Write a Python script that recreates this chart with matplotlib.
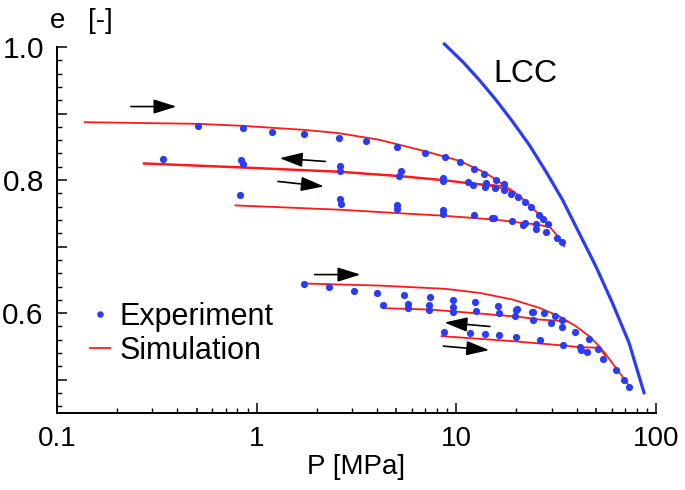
import matplotlib
matplotlib.use("Agg")
import matplotlib.pyplot as plt
from matplotlib.ticker import MultipleLocator, FuncFormatter, LogLocator, NullFormatter

plt.rcParams['font.family'] = ['Liberation Sans', 'DejaVu Sans']

# --- experiment (blue dots), grouped by branch ---
exp_upper_load_p = [0.511, 0.851, 1.193, 1.724, 2.579, 3.548, 5.07, 7.0, 8.78, 10.43, 12.26, 13.69,
                    15.79, 17.24, 17.38, 18.77, 20.42, 22.13, 23.71, 25.92, 27.14, 28.74, 28.09,
                    31.99, 33.78]
exp_upper_load_e = [0.8815, 0.878, 0.8725, 0.869, 0.864, 0.858, 0.849, 0.841, 0.8345, 0.8265, 0.817,
                    0.8095, 0.8005, 0.7935, 0.7845, 0.7795, 0.775, 0.767, 0.759, 0.748, 0.741,
                    0.7335, 0.7215, 0.7135, 0.7065]
exp_upper_cycle_p = [0.338, 0.839, 0.851, 2.6, 2.6, 5.29, 5.19, 8.54, 8.61, 11.39, 12.16, 14.08,
                     13.96, 15.67]
exp_upper_cycle_e = [0.832, 0.8305, 0.8245, 0.8215, 0.813, 0.813, 0.8055, 0.803, 0.799, 0.7975,
                     0.793, 0.7955, 0.7895, 0.7885]
exp_upper_low_p = [0.822, 2.6, 2.63, 5.07, 5.07, 8.54, 8.54, 12.3, 15.1, 15.5, 18.9, 21.6, 22.1,
                   25.2, 25.2]
exp_upper_low_e = [0.7775, 0.7715, 0.764, 0.763, 0.7565, 0.7545, 0.7495, 0.7475, 0.743, 0.743,
                   0.7385, 0.733, 0.7355, 0.734, 0.727]
exp_lower_load_p = [1.718, 2.298, 3.065, 4.013, 5.45, 7.35, 9.58, 12.45, 16.22, 20.03, 24.07, 27.54,
                    31.16, 33.88, 39.36, 46.1, 51.47, 54.5, 63.1, 69.2, 73.3]
exp_lower_load_e = [0.644, 0.639, 0.634, 0.6305, 0.628, 0.625, 0.6205, 0.6175, 0.6115, 0.606, 0.602,
                    0.6005, 0.5955, 0.5905, 0.572, 0.5615, 0.5465, 0.5315, 0.515, 0.4995, 0.4895]
exp_lower_cycle_p = [4.28, 5.71, 5.71, 7.33, 7.33, 9.58, 9.66, 12.55, 16.27, 19.89, 19.72, 23.9,
                     24.07, 29.75, 34.0]
exp_lower_cycle_e = [0.612, 0.6145, 0.6075, 0.612, 0.6055, 0.609, 0.6025, 0.604, 0.6005, 0.6045,
                     0.596, 0.602, 0.5905, 0.5845, 0.579]
exp_lower_low_p = [8.64, 11.71, 13.92, 16.41, 19.95, 26.3, 34.4, 41.7, 42.3, 45.2]
exp_lower_low_e = [0.571, 0.5695, 0.5685, 0.5675, 0.5635, 0.559, 0.5525, 0.5495, 0.5445, 0.5415]

# --- simulation (red lines) ---
sim_upper_load_p = [0.138, 0.511, 0.851, 1.724, 2.579, 4.12, 7.05, 10.35, 14.08, 17.73, 20.65,
                    23.17, 26.0, 29.17, 32.7, 34.67]
sim_upper_load_e = [0.887, 0.8845, 0.8815, 0.8755, 0.8705, 0.8605, 0.843, 0.829, 0.8105, 0.7905,
                    0.7765, 0.763, 0.748, 0.7305, 0.7135, 0.7005]
sim_upper_unload_p = [17.73, 15.79, 11.61, 8.54, 5.19, 2.6, 0.839, 0.272]
sim_upper_unload_e = [0.7905, 0.792, 0.7955, 0.8005, 0.8065, 0.813, 0.8195, 0.8255]
sim_upper_reload_p = [0.272, 0.839, 2.6, 5.19, 8.54, 11.61, 15.79, 19.5]
sim_upper_reload_e = [0.8245, 0.8185, 0.812, 0.8055, 0.7995, 0.795, 0.790, 0.782]
sim_upper_low_p = [0.782, 2.6, 4.99, 8.54, 15.79, 21.46, 25.03, 28.09]
sim_upper_low_e = [0.762, 0.7555, 0.7505, 0.7465, 0.7405, 0.7355, 0.7335, 0.7305]
sim_lower_load_p = [1.772, 4.12, 8.88, 13.03, 19.12, 26.0, 32.7, 39.67, 46.24, 51.88, 56.04, 62.87,
                    70.55, 73.28]
sim_lower_load_e = [0.6445, 0.6415, 0.6365, 0.6305, 0.6205, 0.608, 0.5955, 0.5805, 0.5655, 0.5505,
                    0.538, 0.518, 0.498, 0.4905]
sim_lower_cycle_p = [35.89, 26.0, 20.65, 13.03, 7.33, 4.315]
sim_lower_cycle_e = [0.5875, 0.5905, 0.5945, 0.5995, 0.6055, 0.6075]
sim_lower_low_p = [8.44, 19.12, 34.0, 41.21, 51.88, 55.59]
sim_lower_low_e = [0.5655, 0.558, 0.5515, 0.549, 0.548, 0.5365]

# --- LCC ---
lcc_p = [8.71, 10.75, 13.03, 15.79, 19.12, 23.17, 28.09, 34.0, 41.21, 49.95, 60.46, 73.28, 87.1]
lcc_e = [1.0045, 0.978, 0.9505, 0.9205, 0.888, 0.853, 0.813, 0.7705, 0.7205, 0.6705, 0.6155,
         0.5555, 0.4805]

# arrows: (p_start, e_start, p_end, e_end)
arrows = [
    (0.2344, 0.9105, 0.3968, 0.9105),
    (2.206, 0.828, 1.303, 0.833),
    (1.278, 0.798, 2.171, 0.7905),
    (1.95, 0.658, 3.311, 0.658),
    (14.74, 0.580, 8.71, 0.586),
    (8.61, 0.5505, 14.62, 0.5445),
]

BLUE = "#2b3df2"
RED = "#ff1a1a"
FS = 20

fig = plt.figure(figsize=(6.85, 4.9), dpi=100)
ax = fig.add_axes([57 / 685, 77 / 490, 599 / 685, 366 / 490])

sims = [(sim_upper_load_p, sim_upper_load_e), (sim_upper_unload_p, sim_upper_unload_e),
        (sim_upper_reload_p, sim_upper_reload_e), (sim_upper_low_p, sim_upper_low_e),
        (sim_lower_load_p, sim_lower_load_e), (sim_lower_cycle_p, sim_lower_cycle_e),
        (sim_lower_low_p, sim_lower_low_e)]
sim_lines = [ax.plot(p, e, color=RED, lw=1.3, zorder=2)[0] for p, e in sims]

exps = [(exp_upper_load_p, exp_upper_load_e), (exp_upper_cycle_p, exp_upper_cycle_e),
        (exp_upper_low_p, exp_upper_low_e), (exp_lower_load_p, exp_lower_load_e),
        (exp_lower_cycle_p, exp_lower_cycle_e), (exp_lower_low_p, exp_lower_low_e)]
exp_lines = [ax.plot(p, e, "o", color=BLUE, ms=5.2, mew=0, zorder=3)[0] for p, e in exps]

ax.plot(lcc_p, lcc_e, color=BLUE, lw=2.3, clip_on=False, zorder=2)
ax.text(22.3, 0.948, "LCC", fontsize=23, ha="center", va="baseline")

for p0, e0, p1, e1 in arrows:
    ax.annotate("", xy=(p1, e1), xytext=(p0, e0),
                arrowprops=dict(arrowstyle="-|>,head_length=0.7,head_width=0.22",
                                color="black", lw=1.2, shrinkA=0, shrinkB=0, mutation_scale=20))

ax.set_xscale("log")
ax.set_xlim(0.1, 100)
ax.set_ylim(0.45, 1.0)

ax.xaxis.set_major_locator(LogLocator(base=10, numticks=10))
ax.xaxis.set_major_formatter(FuncFormatter(lambda v, _: f"{v:g}"))
ax.xaxis.set_minor_locator(LogLocator(base=10, subs=(2, 3, 4, 6, 7, 8, 9), numticks=10))
ax.xaxis.set_minor_formatter(NullFormatter())
# mid-length ticks at 0.5, 5, 50
ax.vlines([0.5, 5, 50], 0, 0.015, transform=ax.get_xaxis_transform(), color="black", lw=1.1)

ax.yaxis.set_major_locator(MultipleLocator(0.1))
ax.yaxis.set_major_formatter(FuncFormatter(
    lambda v, _: f"{v:.1f}" if round(v * 10) % 2 == 0 and v > 0.55 else ""))
ax.yaxis.set_minor_locator(MultipleLocator(0.02))

for s in ("top", "right"):
    ax.spines[s].set_visible(False)
for s in ("left", "bottom"):
    ax.spines[s].set_linewidth(1.4)
ax.tick_params(which="major", direction="in", length=7, width=1.1, labelsize=FS, pad=9)
ax.tick_params(axis="y", which="major", labelsize=21.5, pad=9.5)
ax.tick_params(which="minor", direction="in", length=3.5, width=1.0)

ax.set_xlabel("P [MPa]", fontsize=FS, labelpad=2)
fig.text(50 / 685, 1 - 28 / 490, "e", fontsize=FS, ha="left", va="baseline")
fig.text(88 / 685, 1 - 28 / 490, "[-]", fontsize=FS, ha="left", va="baseline")

ax.legend([exp_lines[0], sim_lines[0]], ["Experiment", "Simulation"],
          loc="upper left", bbox_to_anchor=(0.03, 0.345), frameon=False, fontsize=22,
          handlelength=0.65, handletextpad=0.3, labelspacing=0.12, borderpad=0,
          markerscale=0.9)

fig.savefig("out.png", dpi=100)
